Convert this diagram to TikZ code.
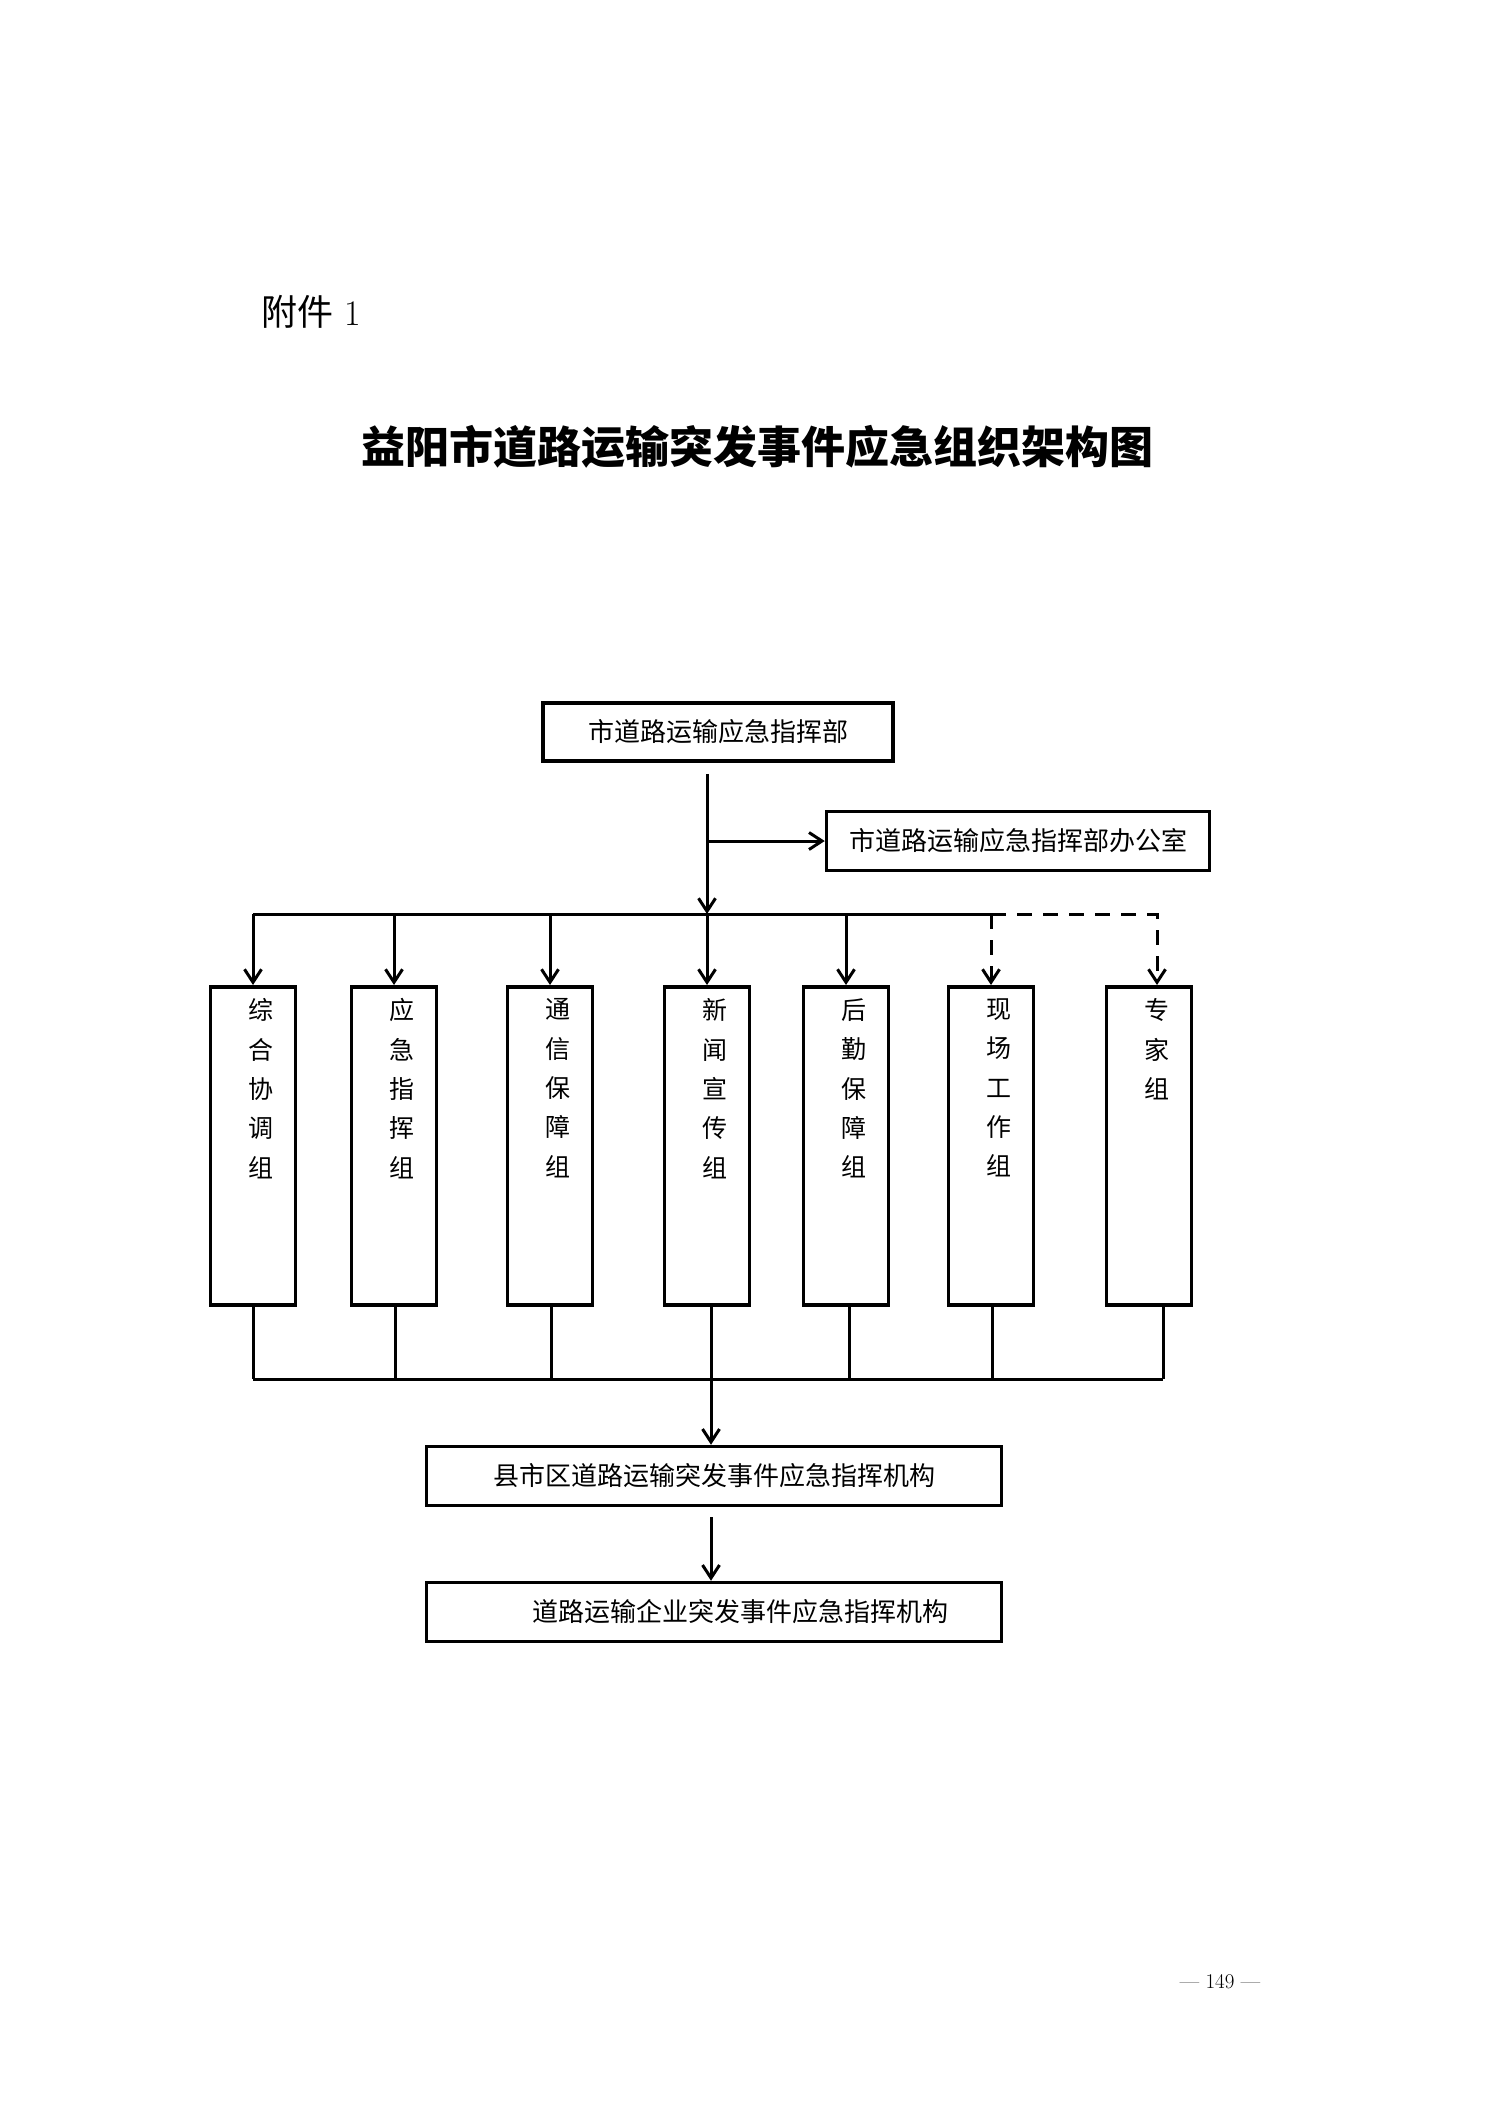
\documentclass[tikz,border=0pt]{standalone}
\usepackage{fontspec}
\newfontfamily\cjk{Noto Sans CJK SC}
\usetikzlibrary{arrows.meta}

\begin{document}
\begin{tikzpicture}[x=1pt,y=-1pt,
        box/.style={draw,line width=3.5pt,inner sep=0pt,minimum width=575pt,minimum height=59pt,font=\cjk\fontsize{26}{26}\selectfont},
        grp/.style={draw,line width=3.5pt,inner sep=0pt,minimum width=85pt,minimum height=318pt,anchor=north,font=\cjk\fontsize{25}{39.3}\selectfont},
        link/.style={line width=3pt},
        arr/.style={line width=3pt,-{Straight Barb[length=13pt,width=17pt]}},
        dashlink/.style={dash pattern=on 15pt off 11pt}]
        \useasboundingbox (0,0) rectangle (1488,2105);
        \node[anchor=west,font=\fontsize{36}{36}\selectfont](att)at(258,312){{\cjk 附件} 1};
        \node[font=\cjk\bfseries\fontsize{44}{44}\selectfont](title)at(757,447){益阳市道路运输突发事件应急组织架构图};
        \node[box,minimum width=350pt,minimum height=58pt](top)at(718,732){市道路运输应急指挥部};
        \node[box,minimum width=383pt](office)at(1018,841){市道路运输应急指挥部办公室};
        \foreach \n/\x/\t in {g1/253/{综\\合\\协\\调\\组},g2/394/{应\\急\\指\\挥\\组},g3/550/{通\\信\\保\\障\\组},g4/707/{新\\闻\\宣\\传\\组},g5/846/{后\\勤\\保\\障\\组},g6/991/{现\\场\\工\\作\\组},g7/1149/{专\\家\\组}}
            \node[grp](\n)at(\x,985){\parbox[t][318pt][t]{85pt}{\leftskip=38pt\vspace*{12pt}\t}};
        \node[box](county)at(714,1476){县市区道路运输突发事件应急指挥机构};
        \node[box](firm)at(714,1612){\hspace*{52pt}道路运输企业突发事件应急指挥机构};
        \node[font=\fontsize{21}{21}\selectfont](page)at(1220,1982){— 149 —};
        \coordinate (busT) at (707,914);
        \coordinate (busB) at (711,1379);
        \draw[arr,shorten <=11pt](top.south -| busT)--(busT);
        \draw[arr](office.west -| busT)--(office.west);
        \draw[link](g1.north |- busT)--(g6.north |- busT);
        \foreach \n in {g1,g2,g3,g4,g5} \draw[arr](\n.north |- busT)--(\n.north);
        \draw[arr,dashlink](g6.north |- busT)--(g6.north);
        \draw[arr,dashlink](g6.north |- busT)-|([xshift=8pt]g7.north);
        \foreach \n/\d in {g1/0,g2/1,g3/1,g4/4,g5/3,g6/1,g7/14} \draw[link]([xshift=\d pt]\n.south)--([xshift=\d pt]\n.south |- busB);
        \draw[link](g1.south |- busB)--([xshift=14pt]g7.south |- busB);
        \draw[arr](busB)--(county.north -| busB);
        \draw[arr,shorten <=10pt](county.south -| busB)--(firm.north -| busB);
    \end{tikzpicture}
\end{document}
